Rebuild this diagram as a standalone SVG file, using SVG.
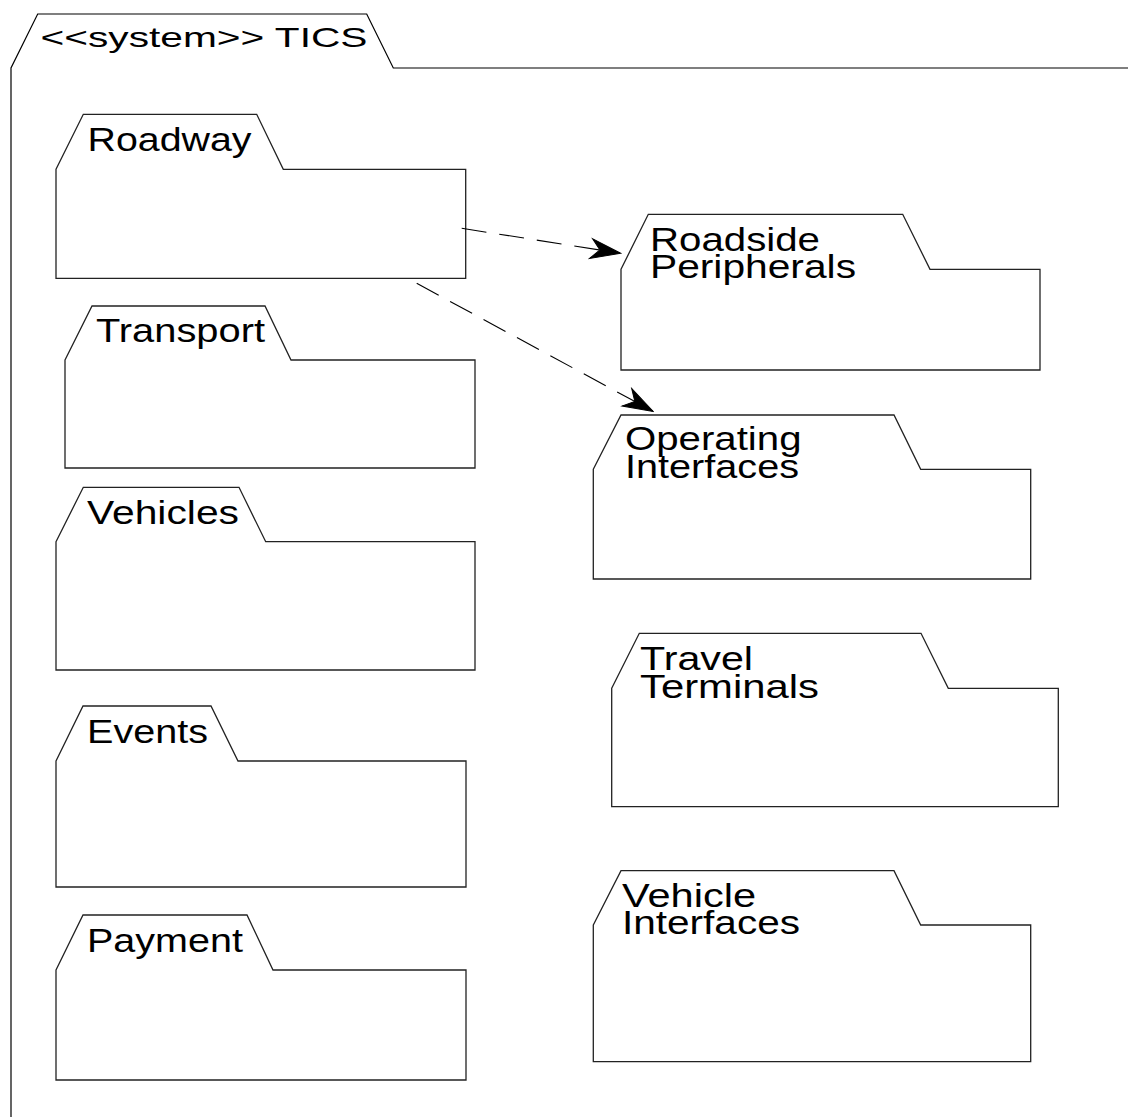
<svg xmlns="http://www.w3.org/2000/svg" width="1128" height="1117" viewBox="0 0 1128 1117">
  <style>
    .frame { fill: none; stroke: #000; stroke-width: 1.2; }
    .pkg { fill: #fff; stroke: #222; stroke-width: 1.3; stroke-linejoin: miter; }
    .lbl { font-family: "Liberation Sans", Arial, Helvetica, sans-serif; font-size: 34px; fill: #000; }
    .title { font-family: "Liberation Sans", Arial, Helvetica, sans-serif; font-size: 28.5px; fill: #000; }
    .dep { fill: none; stroke: #000; stroke-width: 1.1; stroke-dasharray: 25 13; }
  </style>
  <defs>
    <marker id="arrow" markerUnits="userSpaceOnUse" orient="auto" refX="0" refY="0"
            viewBox="-32 -12 34 24" markerWidth="34" markerHeight="24">
      <path d="M1,0 L-29,-10 L-20,0 L-29,10 Z" fill="#000" stroke="#000" stroke-width="1" stroke-linejoin="miter"/>
    </marker>
  </defs>

  <rect width="1128" height="1117" fill="#fff"/>

  <!-- system frame with tab -->
  <g id="system-tics">
    <path class="frame" d="M11,1130 L11,68 L37.7,14 L366.7,14 L393.3,68 L1140,68"/>
    <text class="title" x="40.5" y="47.3" textLength="327" lengthAdjust="spacingAndGlyphs">&lt;&lt;system&gt;&gt; TICS</text>
  </g>

  <!-- left column packages -->
  <g id="pkg-roadway">
    <path class="pkg" d="M56,169.3 L83.3,114.3 L256.7,114.3 L283.3,169.3 L465.7,169.3 L465.7,278.3 L56,278.3 Z"/>
    <text class="lbl" x="87.5" y="151" textLength="164" lengthAdjust="spacingAndGlyphs">Roadway</text>
  </g>

  <g id="pkg-transport">
    <path class="pkg" d="M65,360 L92,306 L265,306 L291,360 L475,360 L475,468 L65,468 Z"/>
    <text class="lbl" x="96" y="342" textLength="169" lengthAdjust="spacingAndGlyphs">Transport</text>
  </g>

  <g id="pkg-vehicles">
    <path class="pkg" d="M56,541.7 L83.3,487.3 L239,487.3 L265.7,541.7 L475,541.7 L475,670 L56,670 Z"/>
    <text class="lbl" x="87" y="524" textLength="152" lengthAdjust="spacingAndGlyphs">Vehicles</text>
  </g>

  <g id="pkg-events">
    <path class="pkg" d="M56,761 L83,706 L211,706 L238,761 L466,761 L466,887 L56,887 Z"/>
    <text class="lbl" x="87" y="743" textLength="121" lengthAdjust="spacingAndGlyphs">Events</text>
  </g>

  <g id="pkg-payment">
    <path class="pkg" d="M56,970 L83,915 L247,915 L273,970 L466,970 L466,1080 L56,1080 Z"/>
    <text class="lbl" x="87" y="952" textLength="156" lengthAdjust="spacingAndGlyphs">Payment</text>
  </g>

  <!-- right column packages -->
  <g id="pkg-roadside-peripherals">
    <path class="pkg" d="M621,269.3 L648.3,214.3 L902.7,214.3 L930,269.3 L1040,269.3 L1040,370 L621,370 Z"/>
    <text class="lbl" x="650" y="250.6" textLength="170" lengthAdjust="spacingAndGlyphs">Roadside</text>
    <text class="lbl" x="650" y="278.3" textLength="206" lengthAdjust="spacingAndGlyphs">Peripherals</text>
  </g>

  <g id="pkg-operating-interfaces">
    <path class="pkg" d="M593.3,469.3 L621,415 L894,415 L920.7,469.3 L1030.7,469.3 L1030.7,579 L593.3,579 Z"/>
    <text class="lbl" x="625" y="449.7" textLength="176.5" lengthAdjust="spacingAndGlyphs">Operating</text>
    <text class="lbl" x="625" y="478" textLength="174" lengthAdjust="spacingAndGlyphs">Interfaces</text>
  </g>

  <g id="pkg-travel-terminals">
    <path class="pkg" d="M611.7,688.3 L639.3,633.3 L921,633.3 L948.3,688.3 L1058.3,688.3 L1058.3,806.7 L611.7,806.7 Z"/>
    <text class="lbl" x="640" y="670" textLength="113" lengthAdjust="spacingAndGlyphs">Travel</text>
    <text class="lbl" x="640" y="697.5" textLength="179" lengthAdjust="spacingAndGlyphs">Terminals</text>
  </g>

  <g id="pkg-vehicle-interfaces">
    <path class="pkg" d="M593.3,925 L621,870.7 L894,870.7 L920.7,925 L1030.7,925 L1030.7,1061.7 L593.3,1061.7 Z"/>
    <text class="lbl" x="622" y="906.7" textLength="134" lengthAdjust="spacingAndGlyphs">Vehicle</text>
    <text class="lbl" x="622" y="934" textLength="178" lengthAdjust="spacingAndGlyphs">Interfaces</text>
  </g>

  <!-- dependencies -->
  <g id="connectors">
    <path class="dep" d="M461.7,228.3 L619.7,253.1" marker-end="url(#arrow)"/>
    <path class="dep" d="M416.7,283.3 L652.4,411" marker-end="url(#arrow)"/>
  </g>
</svg>
